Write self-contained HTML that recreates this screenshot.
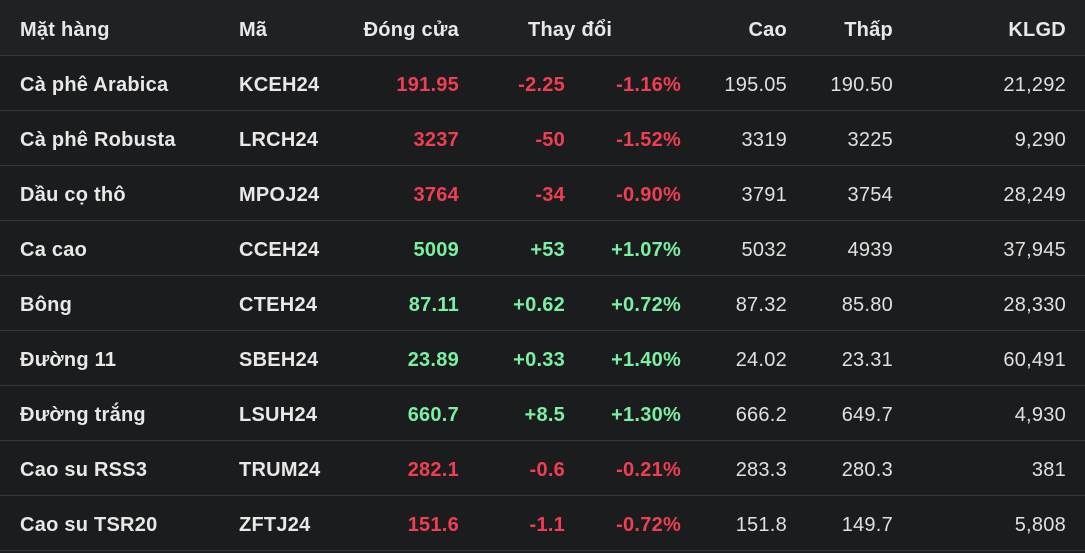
<!DOCTYPE html><html><head><meta charset="utf-8"><style>
body{margin:0;width:1085px;height:551px;background:#1b1c1e;font-family:"Liberation Sans",sans-serif;overflow:hidden}
.r{position:absolute;left:0;width:1085px;height:55px;border-bottom:1px solid #36373a;box-sizing:border-box}
.h{background:#202124;height:56px}
.c{position:absolute;top:2px;line-height:56px;font-size:20px;letter-spacing:0.25px;white-space:nowrap}
.b{font-weight:bold;color:#e8e8e8}
.n{color:#e0e0e0}
.R{color:#f03e52;font-weight:bold}.G{color:#7cf0a2;font-weight:bold}
</style></head><body>
<div class="r h" style="top:0">
<span class="c b" style="left:20px">Mặt hàng</span><span class="c b" style="left:239px">Mã</span>
<span class="c b" style="right:626px">Đóng cửa</span><span class="c b" style="left:528px">Thay đổi</span>
<span class="c b" style="right:298px">Cao</span><span class="c b" style="right:192px">Thấp</span><span class="c b" style="right:19px">KLGD</span></div>
<div id="rows"></div>
<script>
var d=[["Cà phê Arabica","KCEH24","191.95","-2.25","-1.16%","195.05","190.50","21,292"],
["Cà phê Robusta","LRCH24","3237","-50","-1.52%","3319","3225","9,290"],
["Dầu cọ thô","MPOJ24","3764","-34","-0.90%","3791","3754","28,249"],
["Ca cao","CCEH24","5009","+53","+1.07%","5032","4939","37,945"],
["Bông","CTEH24","87.11","+0.62","+0.72%","87.32","85.80","28,330"],
["Đường 11","SBEH24","23.89","+0.33","+1.40%","24.02","23.31","60,491"],
["Đường trắng","LSUH24","660.7","+8.5","+1.30%","666.2","649.7","4,930"],
["Cao su RSS3","TRUM24","282.1","-0.6","-0.21%","283.3","280.3","381"],
["Cao su TSR20","ZFTJ24","151.6","-1.1","-0.72%","151.8","149.7","5,808"]];
var h="";d.forEach(function(x,i){var k=x[3][0]=="-"?"R":"G";var t=56+i*55;
h+='<div class="r" style="top:'+t+'px;height:55px"><span class="c b" style="left:20px;line-height:55px">'+x[0]+'</span><span class="c b" style="left:239px;line-height:55px">'+x[1]+'</span>'+
'<span class="c '+k+'" style="right:626px;line-height:55px">'+x[2]+'</span><span class="c '+k+'" style="right:520px;line-height:55px">'+x[3]+'</span><span class="c '+k+'" style="right:404px;line-height:55px">'+x[4]+'</span>'+
'<span class="c n" style="right:298px;line-height:55px">'+x[5]+'</span><span class="c n" style="right:192px;line-height:55px">'+x[6]+'</span><span class="c n" style="right:19px;line-height:55px">'+x[7]+'</span></div>';});
document.getElementById("rows").innerHTML=h;
</script></body></html>
